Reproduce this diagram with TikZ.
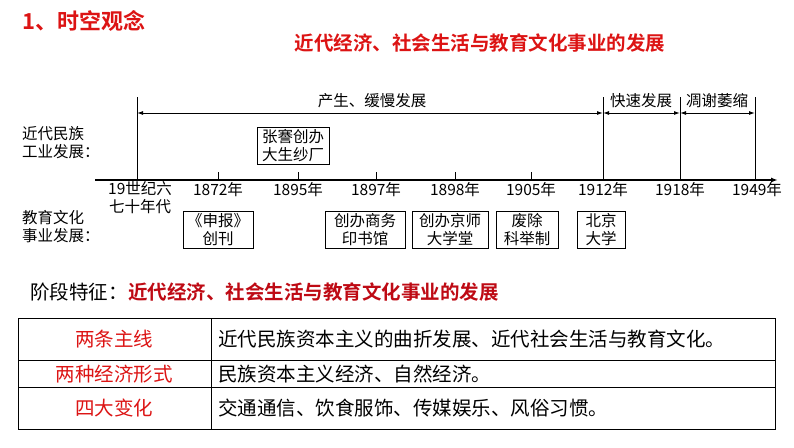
\documentclass[tikz,border=0pt]{standalone}
\usepackage{fontspec}
\setmainfont{Noto Sans CJK SC}
\newfontfamily\cjkb{Noto Sans CJK SC Bold}
\usetikzlibrary{arrows.meta}
\definecolor{tred}{RGB}{220,20,20}
\definecolor{dred}{RGB}{190,10,20}
\begin{document}
\begin{tikzpicture}[x=1pt,y=-1pt,
  lbl/.style={font=\fontsize{15.5}{18}\selectfont,inner sep=0pt,align=center},
  evbox/.style={draw,line width=0.8pt,font=\fontsize{15.5}{18}\selectfont,inner sep=2pt,align=center,text width=#1},
  evbox/.default=50pt,
  cell/.style={font=\fontsize{19.5}{21}\selectfont,inner sep=0pt},
  ln/.style={line width=1pt}]
\useasboundingbox (0,0) rectangle (794,447);
\node[anchor=west,text=tred,font=\cjkb\fontsize{22}{24}\selectfont,inner sep=0pt] (t1) at (22,21) {1、时空观念};
\node[text=tred,font=\cjkb\fontsize{19.5}{21}\selectfont,inner sep=0pt] (t2) at (480,43) {近代经济、社会生活与教育文化事业的发展};
% axis
\coordinate (a0) at (95,180); \coordinate (a1) at (778,180);
\draw[line width=1.4pt,-{Latex[length=7pt,width=5pt]}] (a0) -- (a1);
\foreach \n/\x in {s/137,e/603,f/680,g/755}{\coordinate (\n t) at (\x,97); \coordinate (\n b) at (\x,180); \draw[ln] (\n t)--(\n b);}
\foreach \x in {218,298,376,455,531}{\draw[ln] (\x,172)--(\x,180);}
\draw[ln,{Latex[length=6pt,width=4pt]}-{Latex[length=6pt,width=4pt]}] (137,113)--(603,113);
\draw[ln,{Latex[length=6pt,width=4pt]}-{Latex[length=6pt,width=4pt]}] (603,113)--(680,113);
\draw[ln,{Latex[length=6pt,width=4pt]}-{Latex[length=6pt,width=4pt]}] (680,113)--(755,113);
\node[lbl] (p1) at (372,101) {产生、缓慢发展};
\node[lbl] (p2) at (641,101) {快速发展};
\node[lbl] (p3) at (717,101) {凋谢萎缩};
\node[lbl,align=left,anchor=west] (l1) at (22,143) {近代民族\\工业发展：};
\node[lbl,align=left,anchor=west] (l2) at (22,227) {教育文化\\事业发展：};
\node[evbox=68pt] (b0) at (293,146) {张謇创办\\大生纱厂};
\node[lbl] (y0) at (140,198) {19世纪六\\七十年代};
\foreach \n/\x/\t in {1/218/1872,2/298/1895,3/376/1897,4/455/1898,5/531/1905,6/603/1912,7/680/1918,8/757/1949}{\node[lbl] (y\n) at (\x,190) {\t 年};}
\node[evbox=66pt] (b1) at (218,230) {《申报》\\创刊};
\node[evbox=76pt] (b2) at (365,230) {创办商务\\印书馆};
\node[evbox=72pt] (b3) at (450,230) {创办京师\\大学堂};
\node[evbox=58pt] (b4) at (527,230) {废除\\科举制};
\node[evbox=44pt] (b5) at (601,230) {北京\\大学};
% stage
\node[anchor=west,inner sep=0pt,font=\fontsize{19.5}{21}\selectfont] (s0) at (30,292) {阶段特征：};
\node[anchor=west,inner sep=0pt,text=dred,font=\cjkb\fontsize{19.5}{21}\selectfont] (s1) at (s0.east) {近代经济、社会生活与教育文化事业的发展};
% table
\draw[line width=0.8pt] (18,318) rectangle (775,429);
\draw[line width=0.8pt] (18,360)--(775,360) (18,387)--(775,387) (211,318)--(211,429);
\node[cell,text=tred] (c1) at (114,339) {两条主线};
\node[cell,text=tred] (c2) at (114,374) {两种经济形式};
\node[cell,text=tred] (c3) at (114,408) {四大变化};
\node[cell,anchor=west] (d1) at (218,339) {近代民族资本主义的曲折发展、近代社会生活与教育文化。};
\node[cell,anchor=west] (d2) at (218,374) {民族资本主义经济、自然经济。};
\node[cell,anchor=west] (d3) at (218,408) {交通通信、饮食服饰、传媒娱乐、风俗习惯。};
\end{tikzpicture}
\end{document}
